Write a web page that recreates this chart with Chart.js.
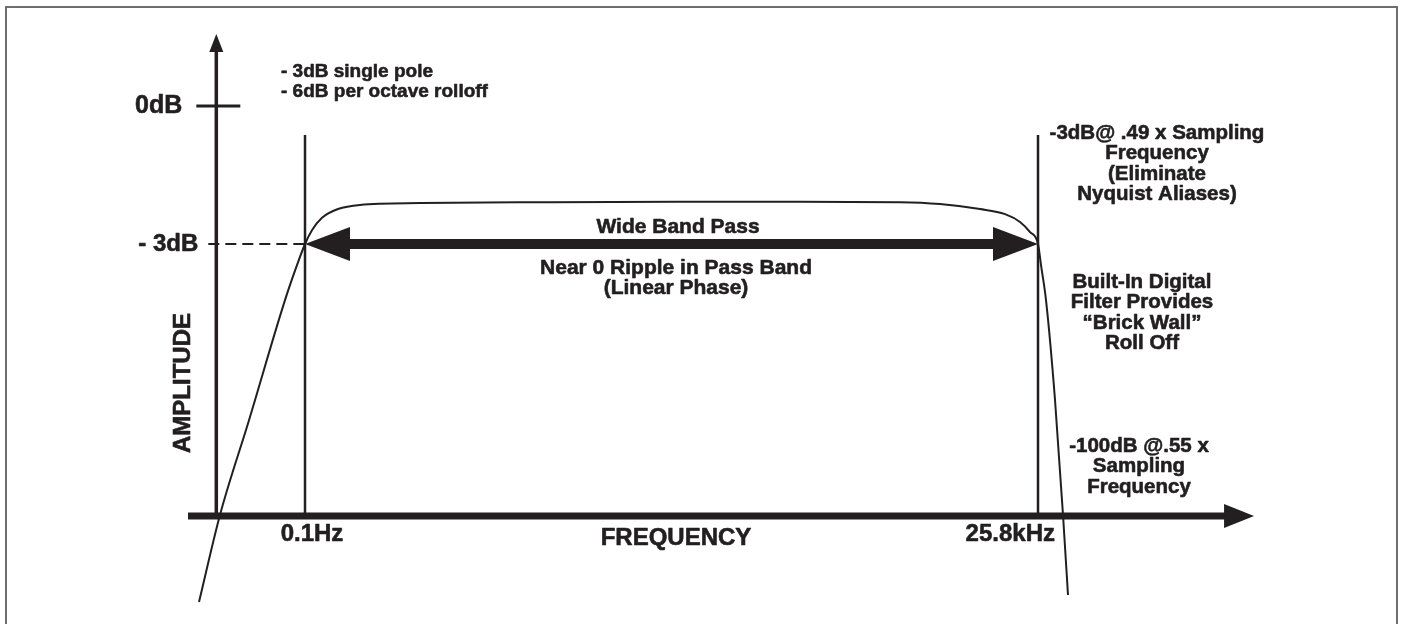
<!DOCTYPE html>
<html>
<head>
<meta charset="utf-8">
<title>Filter Response</title>
<script src="https://cdn.jsdelivr.net/npm/chart.js@4.4.1/dist/chart.umd.min.js"></script>
<style>
    html, body { margin: 0; padding: 0; background: #fff; }
    .chart-wrap { width: 1401px; height: 624px; position: relative; }
</style>
</head>
<body>
<div class="chart-wrap"><canvas id="filter-chart"></canvas></div>
<script>
// DATA
// x = position across the pass band (0.1Hz = 0, 25.8kHz = 100), y = dB
var freqMarks = [0, 100];
var freqLabels = ["0.1Hz", "25.8kHz"];
var dbMarks = [0, -3];
var dbLabels = ["0dB", "- 3dB"];
var curveX = [-14.46, -11.60, -7.64, -2.73, -1.23, 0, 0.95, 2.32, 4.50, 7.50, 15.69, 33.42, 51.16, 67.53, 81.17, 86.63, 92.09, 95.50, 97.54, 98.91, 100, 100.41, 101.09, 102.32, 103.41, 104.09];
var curveY = [-10.78, -8.89, -6.83, -4.22, -3.52, -3, -2.70, -2.43, -2.24, -2.15, -2.11, -2.09, -2.08, -2.08, -2.09, -2.13, -2.24, -2.35, -2.52, -2.74, -3, -3.46, -4.22, -6.39, -8.89, -10.63];

// TEXT
var axisTitles = ["AMPLITUDE", "FREQUENCY"];
var noteTopLeft = ["- 3dB single pole", "- 6dB per octave rolloff"];
var noteCutoff = ["-3dB@ .49 x Sampling", "Frequency", "(Eliminate", "Nyquist Aliases)"];
var noteFilter = ["Built-In Digital", "Filter Provides", "\u201cBrick Wall\u201d", "Roll Off"];
var noteStop = ["-100dB @.55 x", "Sampling", "Frequency"];
var bandTitle = "Wide Band Pass";
var bandNote = ["Near 0 Ripple in Pass Band", "(Linear Phase)"];

// LAYOUT
var X_MIN = -41.61, X_MAX = 149.52;
var Y_MIN = -11.26, Y_MAX = 2.304;
var AXIS_AT_X = -12.1;   // where the amplitude axis stands
var AXIS_AT_Y = -8.91;   // where the frequency axis runs
var INK = "#231f20";
var FONT = '"Liberation Sans", Arial, Helvetica, sans-serif';

function head(c, tx, ty, ux, uy, len, half) {
    var bx = tx - ux * len, by = ty - uy * len;
    c.beginPath();
    c.moveTo(tx, ty);
    c.lineTo(bx - uy * half, by + ux * half);
    c.lineTo(bx + uy * half, by - ux * half);
    c.closePath();
    c.fill();
}

function line(c, x1, y1, x2, y2, w) {
    c.lineWidth = w;
    c.beginPath();
    c.moveTo(x1, y1);
    c.lineTo(x2, y2);
    c.stroke();
}

// heavy text: fill plus a thin stroke, closer to the print bold
function text(c, t, x, y) {
    c.fillText(t, x, y);
    c.strokeText(t, x, y);
}

function lines(c, arr, x, y, step) {
    arr.forEach(function (t, i) {
        text(c, t, x, y + i * step);
    });
}

var diagram = {
    id: "diagram",
    beforeDatasetsDraw: function (chart) {
        var c = chart.ctx, xs = chart.scales.x, ys = chart.scales.y;
        var axX = xs.getPixelForValue(AXIS_AT_X);
        var axY = ys.getPixelForValue(AXIS_AT_Y);
        c.save();

        // frame
        c.strokeStyle = "#6d6e71";
        c.lineWidth = 2;
        c.strokeRect(6, 7, 1391, 640);

        c.strokeStyle = INK;
        c.fillStyle = INK;
        c.lineCap = "butt";

        // amplitude axis
        var top = ys.getPixelForValue(1.565);
        line(c, axX, axY + 2, axX, top + 14, 3.5);
        head(c, axX, top, 0, -1, 18, 7);

        // frequency axis
        var left = xs.getPixelForValue(-15.96);
        var tip = xs.getPixelForValue(129.47);
        line(c, left, axY, tip - 26, axY, 7);
        head(c, tip, axY, 1, 0, 30, 12);

        // 0dB tick
        line(c, axX - 20, ys.getPixelForValue(dbMarks[0]), axX + 24, ys.getPixelForValue(dbMarks[0]), 3);

        // -3dB dashed guide
        c.setLineDash([11, 6]);
        line(c, axX - 8, ys.getPixelForValue(dbMarks[1]), xs.getPixelForValue(freqMarks[0]), ys.getPixelForValue(dbMarks[1]), 2);
        c.setLineDash([]);

        // band edge markers
        freqMarks.forEach(function (f) {
            var px = xs.getPixelForValue(f);
            line(c, px, ys.getPixelForValue(-0.63), px, axY, 2.5);
        });

        // wide band arrow
        var a = xs.getPixelForValue(freqMarks[0]), b = xs.getPixelForValue(freqMarks[1]);
        var ay = ys.getPixelForValue(dbMarks[1]);
        line(c, a + 40, ay, b - 40, ay, 10);
        head(c, a, ay, -1, 0, 45, 17);
        head(c, b, ay, 1, 0, 45, 17);

        c.restore();
    },
    afterDatasetsDraw: function (chart) {
        var c = chart.ctx, xs = chart.scales.x, ys = chart.scales.y;
        var axX = xs.getPixelForValue(AXIS_AT_X);
        var axY = ys.getPixelForValue(AXIS_AT_Y);
        c.save();
        c.fillStyle = INK;
        c.strokeStyle = INK;
        c.lineWidth = 0.6;
        c.lineJoin = "round";
        c.textBaseline = "middle";

        // tick labels
        c.font = "bold 25px " + FONT;
        c.textAlign = "right";
        text(c, dbLabels[0], axX - 34, ys.getPixelForValue(dbMarks[0]));
        c.font = "bold 24px " + FONT;
        text(c, dbLabels[1], axX - 18, ys.getPixelForValue(dbMarks[1]));
        c.textAlign = "center";
        text(c, freqLabels[0], xs.getPixelForValue(freqMarks[0]) + 7, axY + 18);
        c.textAlign = "right";
        text(c, freqLabels[1], xs.getPixelForValue(freqMarks[1]) + 17, axY + 18);

        // axis titles
        c.textAlign = "center";
        text(c, axisTitles[1], 676, axY + 22);
        c.save();
        c.translate(183, 383);
        c.rotate(-Math.PI / 2);
        text(c, axisTitles[0], 0, 0);
        c.restore();

        // notes
        c.font = "bold 19px " + FONT;
        c.textAlign = "left";
        lines(c, noteTopLeft, 281, 72, 20);

        c.font = "bold 21px " + FONT;
        c.textAlign = "center";
        text(c, bandTitle, 678, 227);
        lines(c, bandNote, 676, 268, 20.5);
        c.font = "bold 20.5px " + FONT;
        lines(c, noteCutoff, 1157, 133, 20.5);
        lines(c, noteFilter, 1142, 282, 20.5);
        lines(c, noteStop, 1139, 446, 20.5);

        c.restore();
    }
};

//FILTER RESPONSE CHART
var ctx = document.getElementById("filter-chart");
var points = curveX.map(function (x, i) {
    return { x: x, y: curveY[i] };
});

var filterChart = new Chart(ctx, {
    type: "scatter",
    data: {
        datasets: [
            {
                label: "Response",
                data: points,
                showLine: true,
                borderColor: INK,
                borderWidth: 2,
                pointRadius: 0,
                cubicInterpolationMode: "monotone",
                fill: false,
            },
        ],
    },
    options: {
        responsive: true,
        maintainAspectRatio: false,
        animation: false,
        layout: { padding: 0 },
        plugins: {
            legend: { display: false },
            tooltip: { enabled: false },
        },
        scales: {
            x: { type: "linear", min: X_MIN, max: X_MAX, display: false },
            y: { type: "linear", min: Y_MIN, max: Y_MAX, display: false },
        },
    },
    plugins: [diagram],
});
</script>
</body>
</html>
